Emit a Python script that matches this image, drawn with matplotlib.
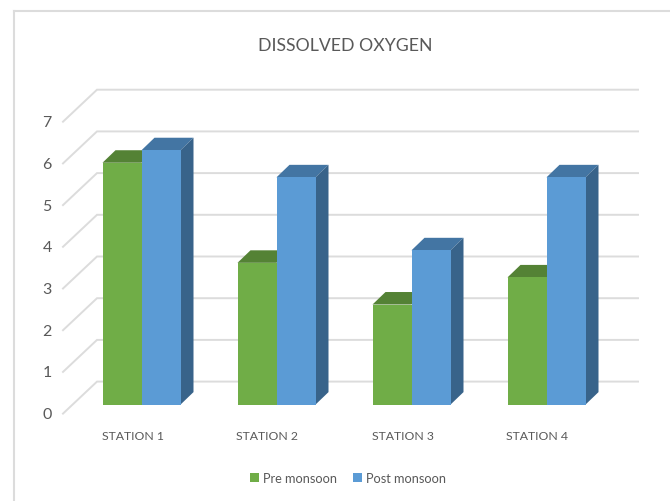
"""
Dissolved oxygen per station, drawn as an Excel style 3D column chart
"""

import matplotlib
matplotlib.use('Agg')
import matplotlib.pyplot as plt
import numpy as np
from matplotlib.patches import Polygon

stations = ['STATION 1', 'STATION 2', 'STATION 3', 'STATION 4']
pre_monsoon = [5.8, 3.4, 2.4, 3.05]
post_monsoon = [6.1, 5.45, 3.7, 5.45]
y_ticks = [0, 1, 2, 3, 4, 5, 6, 7]

# Reference layout, in pixels
WIDTH, HEIGHT = 670, 502
PX_X = 135.0     # one station step
PX_Y = 41.7      # one unit of oxygen
BASE_X = 141.5   # centre of the first group
BASE_Y = 405.6   # bar foot

plt.rcParams['font.family'] = ['Lato', 'DejaVu Sans']
TEXT = '#595959'
GRID = '#DCDCDC'


def dx(px):
    return px / PX_X


def dy(px):
    return px / PX_Y


fig = plt.figure(figsize=(WIDTH / 100, HEIGHT / 100), dpi=100)
ax = fig.add_axes([0, 0, 1, 1])
ax.set_xlim(-BASE_X / PX_X, (WIDTH - BASE_X) / PX_X)
ax.set_ylim((BASE_Y - HEIGHT) / PX_Y, BASE_Y / PX_Y)
ax.axis('off')

# Outer chart frame
ax.plot([dx(14 - BASE_X), dx(14 - BASE_X)], [dy(BASE_Y - 12), dy(BASE_Y - HEIGHT)],
        color=GRID, lw=1.5, zorder=1)
ax.plot([dx(14 - BASE_X), dx(WIDTH - BASE_X)], [dy(BASE_Y - 12), dy(BASE_Y - 12)],
        color=GRID, lw=1.5, zorder=1)

# Gridlines on the back wall with the slanted floor/side part
front_x, back_x, right_x = dx(63 - BASE_X), dx(97 - BASE_X), dx(638 - BASE_X)
for tick in y_ticks:
    front_y = tick + dy(-9)
    back_y = tick + dy(23)
    ax.plot([front_x, back_x, right_x], [front_y, back_y, back_y], color=GRID, lw=1.4,
            solid_joinstyle='miter', zorder=1)
    ax.text(dx(47 - BASE_X), tick + dy(-9.5), str(tick), color=TEXT, fontsize=11.5,
            ha='center', va='center')

# Columns
x = np.arange(len(stations))
bar_w = dx(39)
depth_x, depth_y = dx(13), dy(12.5)

for i, pos in enumerate(x):
    left = pos - bar_w
    top = pre_monsoon[i]
    ax.add_patch(Polygon([(left, top), (left + depth_x, top + depth_y),
                          (left + bar_w + depth_x, top + depth_y), (left + bar_w, top)],
                         facecolor='#548235', edgecolor='none', zorder=2))
    right = pos + bar_w
    top = post_monsoon[i]
    ax.add_patch(Polygon([(pos, top), (pos + depth_x, top + depth_y),
                          (right + depth_x, top + depth_y), (right, top)],
                         facecolor='#4375A3', edgecolor='none', zorder=3))
    ax.add_patch(Polygon([(right, 0), (right + depth_x, depth_y),
                          (right + depth_x, top + depth_y), (right, top)],
                         facecolor='#38638A', edgecolor='none', zorder=3))
    ax.text(pos - bar_w - dx(1), dy(-31), stations[i], color=TEXT, fontsize=8.8,
            ha='left', va='center')

bars_pre = ax.bar(x - bar_w / 2, pre_monsoon, bar_w, color='#70AD47', zorder=4,
                  label='Pre monsoon')
bars_post = ax.bar(x + bar_w / 2, post_monsoon, bar_w, color='#5B9BD5', zorder=4,
                   label='Post monsoon')

ax.text(dx(345 - BASE_X), dy(BASE_Y - 46), 'DISSOLVED OXYGEN', color=TEXT, fontsize=12.7,
        ha='center', va='center')

# Legend
ax.legend(handles=[bars_pre, bars_post], ncols=2, frameon=False, fontsize=9.2,
          labelcolor=TEXT, loc='center', bbox_to_anchor=(348 / WIDTH, 1 - 479 / HEIGHT),
          handlelength=0.7, handleheight=0.7, handletextpad=0.35, columnspacing=1.2,
          borderpad=0, borderaxespad=0)

fig.savefig('out.png', dpi=100, facecolor='white')
plt.close(fig)
